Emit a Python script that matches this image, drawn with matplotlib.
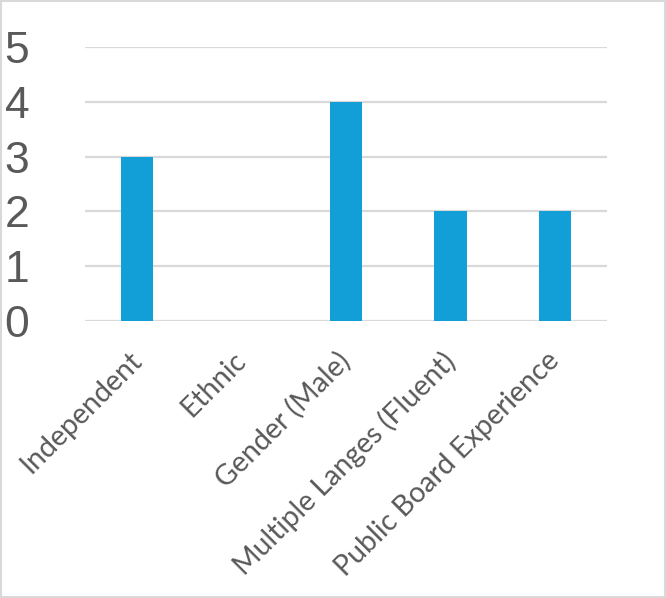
import matplotlib
matplotlib.use("Agg")
import matplotlib.pyplot as plt
from matplotlib.patches import Rectangle
from matplotlib.transforms import ScaledTranslation

categories = ["Independent", "Ethnic", "Gender (Male)", "Multiple Langes (Fluent)", "Public Board Experience"]
values = [3, 0, 4, 2, 2]
yticks = [0, 1, 2, 3, 4, 5]

fig = plt.figure(figsize=(6.66, 5.98), dpi=100)
ax = fig.add_axes([0.1276, 0.4632, 0.7838, 0.4582])
x = range(len(categories))
ax.bar(x, values, width=0.31, color="#129FD8", zorder=3)
ax.set_xlim(-0.5, len(categories) - 0.5)
ax.set_ylim(0, 5)
ax.set_yticks(yticks)
ax.set_yticklabels([str(v) for v in yticks], fontsize=32, color="#595959", family="Liberation Sans")
ax.yaxis.grid(True, color="#D9D9D9", linewidth=1.6, zorder=0)
ax.tick_params(axis="y", length=0, pad=40)
ax.tick_params(axis="x", length=0, pad=19)
ax.set_xticks(list(x))
ax.set_xticklabels(categories, rotation=45, ha="right", va="top", rotation_mode="anchor",
                   fontsize=20.5, color="#595959", family="Lato")
off = ScaledTranslation(-0.09, 0, fig.dpi_scale_trans)
for lbl in ax.get_xticklabels():
    lbl.set_transform(lbl.get_transform() + off)
for s in ax.spines.values():
    s.set_visible(False)
fig.patches.append(Rectangle((0.002, 0.002), 0.996, 0.996, transform=fig.transFigure,
                             fill=False, edgecolor="#D9D9D9", linewidth=1.5))
fig.savefig("out.png", dpi=100)
